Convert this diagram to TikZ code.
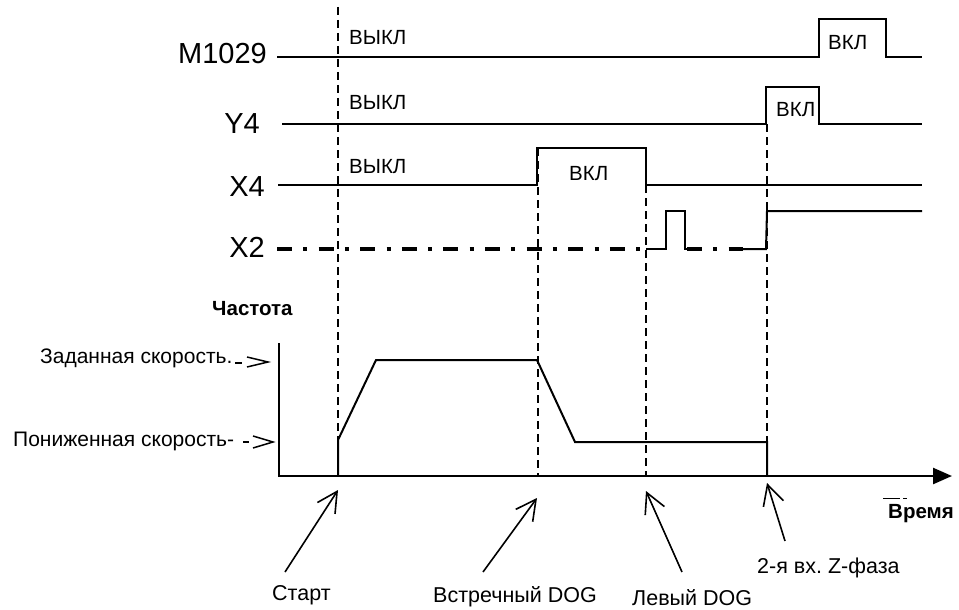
\documentclass[tikz,border=0pt]{standalone}
\usepackage{fontspec}
\setmainfont{Liberation Sans}
\usetikzlibrary{arrows.meta}
\begin{document}
\begin{tikzpicture}[x=1pt,y=-1pt,
  sig/.style={line width=2pt, line join=miter},
  guide/.style={line width=2pt, dash pattern=on 8pt off 5pt},
  dashdot/.style={line width=3.5pt, dash pattern=on 15pt off 11.3pt on 4pt off 11.3pt},
  axisline/.style={line width=2.5pt, -{Triangle[length=19pt,width=16pt]}},
  lbl/.style={font=\fontsize{29}{29}\selectfont, inner sep=0pt},
  statelbl/.style={font=\fontsize{20.5}{20.5}\selectfont, inner sep=0pt},
  spd/.style={font=\fontsize{21}{21}\selectfont, inner sep=0pt},
  evt/.style={font=\fontsize{21.5}{21.5}\selectfont, inner sep=0pt},
  boldlbl/.style={font=\bfseries\fontsize{20.5}{20.5}\selectfont, inner sep=0pt},
  pointer/.style={line width=1.6pt, -{Straight Barb[length=20pt,width=21pt]}},
  chev/.style={line width=1.5pt}
]
\useasboundingbox (0,0) rectangle (959,610);

% signal names
\node[lbl, anchor=base east] (m1029) at (267,64) {M1029};
\node[lbl, anchor=base east] (y4) at (260,133) {Y4};
\node[lbl, anchor=base east] (x4) at (265,196) {X4};
\node[lbl, anchor=base east] (x2) at (265,257) {X2};

% state texts
\node[statelbl, anchor=base west] (off1) at (349,45) {ВЫКЛ};
\node[statelbl, anchor=base west] (off2) at (349,110) {ВЫКЛ};
\node[statelbl, anchor=base west] (off3) at (349,173) {ВЫКЛ};
\node[statelbl, anchor=base west] (on1) at (828,50) {ВКЛ};
\node[statelbl, anchor=base west] (on2) at (776,116) {ВКЛ};
\node[statelbl, anchor=base west] (on3) at (569,180) {ВКЛ};

% signal lines
\draw[sig] (277,57) -- (819,57) -- (819,19) -- (886,19) -- (886,57) -- (922,57);
\draw[sig] (282,124) -- (766,124) -- (766,87) -- (819,87) -- (819,124) -- (922,124);
\draw[sig] (278,185) -- (537,185) -- (537,148) -- (646,148) -- (646,185) -- (922,185);
\draw[dashdot] (277,249) -- (646,249);
\draw[sig] (646,249) -- (666,249) -- (666,211) -- (685,211) -- (685,249) -- (690,249);
\draw[dashdot] (687,249) -- (743,249);
\draw[sig] (742,249) -- (766,249) -- (767,211) -- (922,211);

% guide lines
\draw[guide] (338,7) -- (338,440);
\draw[guide] (538,148) -- (538,476);
\draw[guide] (646,185) -- (646,476);
\draw[guide] (767,124) -- (767,442);

% axes
\draw[axisline] (279,343) -- (279,476) -- (952,476);

% speed profile
\draw[sig] (338,476) -- (338,440) -- (376,360) -- (537,360) -- (575,442) -- (767,442) -- (767,476);

% speed labels
\node[boldlbl, anchor=base west] (freq) at (212,315) {Частота};
\node[spd, anchor=base west] (zad) at (40,363) {Заданная скорость.};
\node[spd, anchor=base west] (pon) at (13,446) {Пониженная скорость-};
\draw[chev] (235,363) -- (242,363);
\draw[chev] (247,357) -- (268,362) -- (247,367);
\draw[chev] (243,442) -- (249,442);
\draw[chev] (253,436) -- (273,442) -- (253,448);

% time label
\node[boldlbl, anchor=base west] (time) at (888,518) {Время};
\draw[line width=1pt] (883,498) -- (900,498);
\draw[line width=1pt] (903,498) -- (907,498);

% event labels
\node[evt, anchor=base west] (start) at (272,600) {Старт};
\node[evt, anchor=base west] (dog1) at (433,602) {Встречный DOG};
\node[evt, anchor=base west] (dog2) at (632,605) {Левый DOG};
\node[evt, anchor=base west] (zph) at (757,573) {2-я вх.\ Z-фаза};

% pointers
\coordinate (s1) at (285,572); \coordinate (t1) at (338,490);
\coordinate (s2) at (483,572); \coordinate (t2) at (537,498);
\coordinate (s3) at (682,572); \coordinate (t3) at (646,491);
\coordinate (s4) at (785,541); \coordinate (t4) at (767,483);
\draw[pointer] (s1) -- (t1);
\draw[pointer] (s2) -- (t2);
\draw[pointer] (s3) -- (t3);
\draw[pointer] (s4) -- (t4);
\end{tikzpicture}
\end{document}
